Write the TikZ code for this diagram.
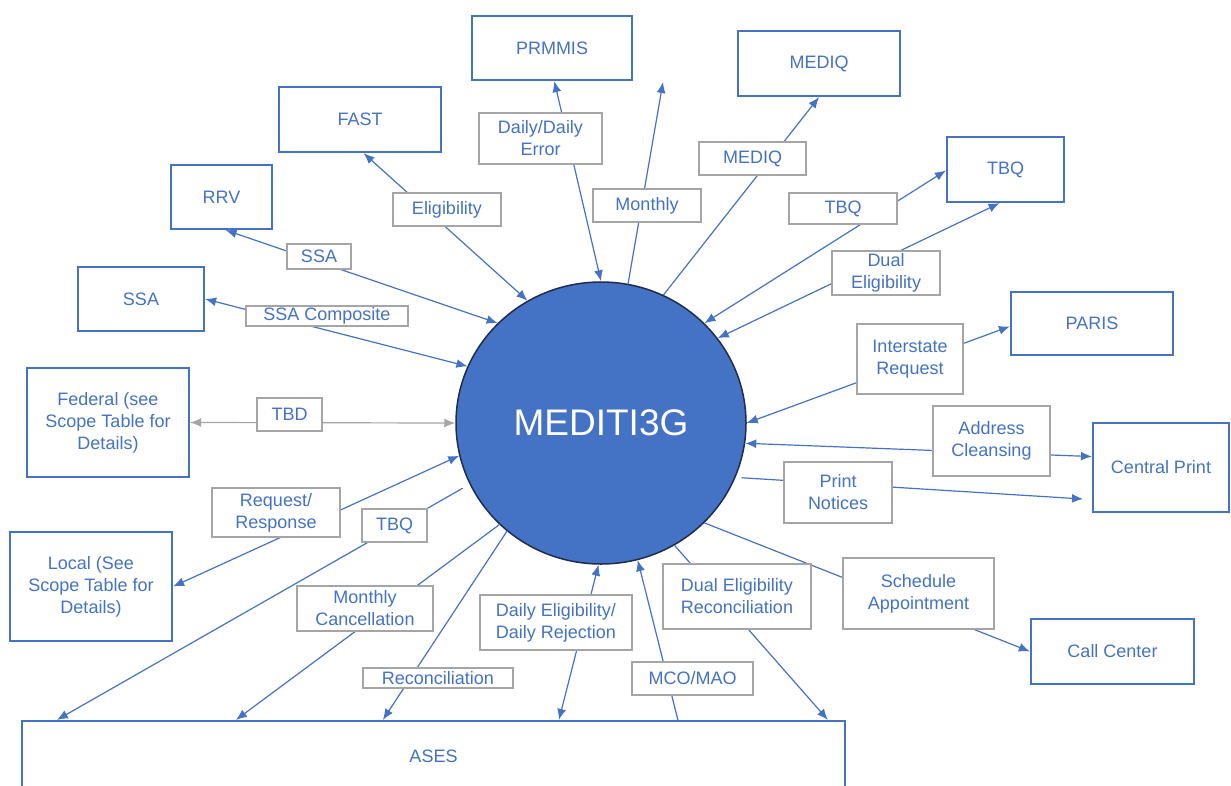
\documentclass[tikz,border=0pt]{standalone}
\usepackage{fontspec}
\setmainfont{Liberation Sans}
\usetikzlibrary{arrows.meta,shapes.geometric,calc}
\definecolor{ablue}{HTML}{4472C4}
\definecolor{agray}{HTML}{A5A5A5}
\definecolor{dnavy}{HTML}{1F2D4D}
\begin{document}
\begin{tikzpicture}[x=1pt,y=-1pt,
 sysbox/.style={draw=ablue, line width=2.2pt, text=ablue, font=\fontsize{18}{22}\selectfont, align=center, inner sep=0pt},
 lbl/.style={draw=agray, line width=1.8pt, fill=white, text=ablue, font=\fontsize{18}{22}\selectfont, align=center, inner sep=0pt},
 conn/.style={draw=ablue, line width=1.2pt},
 grayconn/.style={draw=agray, line width=1.2pt},
 tip/.style={-{Latex[length=11pt,width=9pt]}},
 both/.style={{Latex[length=11pt,width=9pt]}-{Latex[length=11pt,width=9pt]}},
]
\useasboundingbox (0,0) rectangle (1231,785);
\clip (0,0) rectangle (1231,785);

% systems
\node[sysbox, minimum width=160pt, minimum height=64pt] (prmmis) at (552,48) {PRMMIS};
\node[sysbox, minimum width=162pt, minimum height=65pt] (mediq) at (819,63.5) {MEDIQ};
\node[sysbox, minimum width=162pt, minimum height=65pt] (fast) at (360,119.5) {FAST};
\node[sysbox, minimum width=101pt, minimum height=64pt] (rrv) at (221.5,197) {RRV};
\node[sysbox, minimum width=126pt, minimum height=64pt] (ssa) at (141,299) {SSA};
\node[sysbox, minimum width=117pt, minimum height=65pt] (tbqbox) at (1005.5,169.5) {TBQ};
\node[sysbox, minimum width=162pt, minimum height=63pt] (paris) at (1092,323.5) {PARIS};
\node[sysbox, minimum width=136pt, minimum height=89pt] (cprint) at (1161,467.5) {Central Print};
\node[sysbox, minimum width=163pt, minimum height=65pt] (callc) at (1112.5,651.5) {Call Center};
\node[sysbox, minimum width=162pt, minimum height=109pt] (federal) at (108,422.5) {Federal (see\\Scope Table for\\Details)};
\node[sysbox, minimum width=162pt, minimum height=109pt] (local) at (91,586.5) {Local (See\\Scope Table for\\Details)};
\node[sysbox, minimum width=823pt, minimum height=70pt] (ases) at (433.5,756) {ASES};

\node[ellipse, draw=dnavy, fill=ablue, line width=1.5pt, minimum width=290pt, minimum height=282pt, inner sep=0pt, text=white, font=\fontsize{37}{40}\selectfont] (c) at (601,423) {MEDITI3G};

\coordinate (mtip) at (663,82);
\coordinate (ptip) at (1083,499);

% connectors
\draw[conn,both] (prmmis.-86.4) -- (c.90.8);
\draw[conn,tip] (c.79) -- (mtip);
\draw[conn,tip] (c.64.7) -- (mediq.south);
\draw[conn,both] (fast.-84.7) -- (c.121.8);
\draw[conn,both] (rrv.-83.8) -- (c.136.1);
\draw[conn,both] (ssa.east) -- (c.157.4);
\draw[grayconn,both] (federal.east) -- (c.180);
\draw[conn,both] (local.east) -- (c.193.2);
\draw[conn,tip,shorten <=8pt] (c.205.6) -- ([xshift=36pt]ases.north west);
\draw[conn,tip] (c.225.3) -- ([xshift=215pt]ases.north west);
\draw[conn,tip] (c.229.5) -- ([xshift=362pt]ases.north west);
\draw[conn,both] ([xshift=538pt]ases.north west) -- (c.-91.2);
\draw[conn,tip] ([xshift=657pt]ases.north west) -- (c.-75);
\draw[conn,tip] (c.-59) -- ([xshift=807pt]ases.north west);
\draw[conn,tip] (c.-44.4) -- (callc.west);
\draw[conn,tip,shorten <=6pt] (c.-22.6) -- (ptip);
\draw[conn,both] (c.-8.2) -- (cprint.171.2);
\draw[conn,both] (c.0.4) -- (paris.182.5);
\draw[conn,both] (c.36) -- (tbqbox.260.4);
\draw[conn,both] (c.44.2) -- (tbqbox.181);

% labels
\node[lbl, minimum width=123pt, minimum height=51pt] (lDaily) at (540.5,138.5) {Daily/Daily\\Error};
\node[lbl, minimum width=108pt, minimum height=33pt] (lMonthly) at (647,205.5) {Monthly};
\node[lbl, minimum width=107pt, minimum height=33pt] (lMediq) at (752.5,158.5) {MEDIQ};
\node[lbl, minimum width=108pt, minimum height=33pt] (lElig) at (447,209.5) {Eligibility};
\node[lbl, minimum width=64pt, minimum height=25pt] (lSSA) at (319,256.5) {SSA};
\node[lbl, minimum width=162pt, minimum height=20pt] (lSSAC) at (327,316) {SSA Composite};
\node[lbl, minimum width=108pt, minimum height=31pt] (lTBQa) at (843,208.5) {TBQ};
\node[lbl, minimum width=108pt, minimum height=44pt] (lDual) at (886,273) {Dual\\Eligibility};
\node[lbl, minimum width=106pt, minimum height=70pt] (lInter) at (910,359) {Interstate\\Request};
\node[lbl, minimum width=117pt, minimum height=70pt] (lAddr) at (991.5,441) {Address\\Cleansing};
\node[lbl, minimum width=108pt, minimum height=61pt] (lPrint) at (838,492.5) {Print\\Notices};
\node[lbl, minimum width=151pt, minimum height=71pt] (lSched) at (918.5,593.5) {Schedule\\Appointment};
\node[lbl, minimum width=148pt, minimum height=65pt] (lDER) at (737,596.5) {Dual Eligibility\\Reconciliation};
\node[lbl, minimum width=121pt, minimum height=33pt] (lMCO) at (692.5,678.5) {MCO/MAO};
\node[lbl, minimum width=152pt, minimum height=55pt] (lDEDR) at (556,622.5) {Daily Eligibility/\\Daily Rejection};
\node[lbl, minimum width=150pt, minimum height=20pt] (lRecon) at (438,678) {Reconciliation};
\node[lbl, minimum width=136pt, minimum height=45pt] (lMC) at (365,608.5) {Monthly\\Cancellation};
\node[lbl, minimum width=65pt, minimum height=33pt] (lTBQb) at (394.5,525.5) {TBQ};
\node[lbl, minimum width=128pt, minimum height=49pt] (lReq) at (276,512.5) {Request/\\Response};
\node[lbl, minimum width=65pt, minimum height=33pt] (lTBD) at (289.5,414.5) {TBD};
\end{tikzpicture}
\end{document}
